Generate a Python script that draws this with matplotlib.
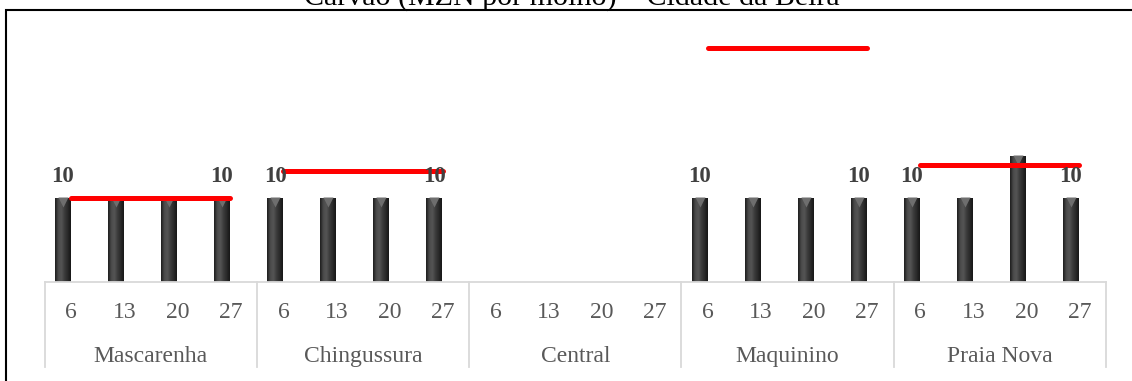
import numpy as np
import matplotlib.pyplot as plt
from matplotlib.colors import LinearSegmentedColormap
from matplotlib.patches import Rectangle
import matplotlib.transforms as mtransforms

# Data
groups = ["Mascarenha", "Chingussura", "Central", "Maquinino", "Praia Nova"]
days = [6, 13, 20, 27]
mascarenha = [10, 10, 10, 10]
chingussura = [10, 10, 10, 10]
central = [np.nan, np.nan, np.nan, np.nan]
maquinino = [10, 10, 10, 10]
praia_nova = [10, 10, 15, 10]
media = [10, 13.3, np.nan, 27.9, 14]

title = "Carvão (MZN por molho) – Cidade da Beira"

plt.rcParams["font.family"] = ["Liberation Serif", "DejaVu Serif"]

values = np.array(mascarenha + chingussura + central + maquinino + praia_nova, dtype=float)
n = len(values)
x = np.arange(n)
bar_shift = -0.16
bar_w = 0.30

fig = plt.figure(figsize=(11.32, 3.81), dpi=100)
ax = fig.add_axes([0.0395, 0.259, 0.9375, 0.6615])

# bars with a horizontal gradient
cmap = LinearSegmentedColormap.from_list(
    "bar", ["#1c1c1c", "#4a4a4a", "#555555", "#3c3c3c", "#2a2a2a", "#161616"])
grad = np.linspace(0, 1, 64).reshape(1, -1)
bars = ax.bar(x + bar_shift, np.nan_to_num(values), width=bar_w, color="#3a3a3a", zorder=2)
for b, v in zip(bars, values):
    if np.isnan(v):
        continue
    x0, w, h = b.get_x(), b.get_width(), b.get_height()
    im = ax.imshow(grad, cmap=cmap, aspect="auto", extent=(x0, x0 + w, 0, h),
                   zorder=2.1, interpolation="bicubic")
    im.set_clip_path(b)
    # small bevel triangle at the top
    off = mtransforms.offset_copy(ax.transData, fig=fig, x=0, y=-3.5, units="dots")
    ax.plot(x0 + w / 2, h, marker="v", ms=7, color="#6e6e6e", mec="none",
            transform=off, zorder=2.2)
ax.set_xlim(-0.5, n - 0.5)
ax.set_ylim(0, 30)

# value labels on first and last bar of each group
for g in range(len(groups)):
    for k in (0, len(days) - 1):
        i = g * len(days) + k
        if not np.isnan(values[i]):
            ax.annotate(f"{values[i]:.0f}", (x[i] + bar_shift, values[i]),
                        xytext=(0, 16), textcoords="offset pixels", ha="center",
                        va="baseline", fontsize=16.5, fontweight="bold",
                        color="#404040", zorder=4)

# red average lines per group
for g, m in enumerate(media):
    if np.isnan(m):
        continue
    xs = x[g * len(days):(g + 1) * len(days)]
    ax.plot([xs[0], xs[-1]], [m, m], color="#ff0000", lw=3.6,
            solid_capstyle="round", zorder=3)

# axes styling: only the gray baseline
for s in ["top", "right", "left"]:
    ax.spines[s].set_visible(False)
ax.spines["bottom"].set_color("#d9d9d9")
ax.spines["bottom"].set_linewidth(1.3)
ax.set_yticks([])
ax.set_xticks([])

# multi-level category axis
trans = mtransforms.blended_transform_factory(ax.transData, ax.transAxes)
for i in range(n):
    ax.text(x[i], -0.1429, str(days[i % len(days)]), transform=trans, ha="center",
            va="baseline", fontsize=17, color="#595959")
for g, name in enumerate(groups):
    c = g * len(days) + (len(days) - 1) / 2
    ax.text(c, -0.315, name, transform=trans, ha="center", va="baseline",
            fontsize=17, color="#595959")
for g in range(len(groups) + 1):
    xb = g * len(days) - 0.5
    ax.plot([xb, xb], [0, -0.335], transform=trans, color="#d9d9d9", lw=1.3,
            clip_on=False)

# chart frame and title (cut at the top like the original)
fig.patches.append(Rectangle((6 / 1132, -0.2), 1.5, 1.2 - 10 / 381, transform=fig.transFigure,
                             fill=False, ec="black", lw=1.5))
fig.text(0.505, 1 - 5 / 381, title, ha="center", va="baseline", fontsize=21.6, color="black")

fig.savefig("out.png", dpi=100)
